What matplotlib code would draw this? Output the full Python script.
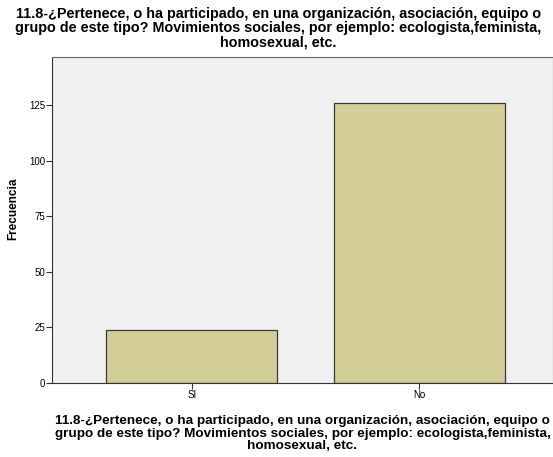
import matplotlib.pyplot as plt

plt.rcParams['font.family'] = ['Liberation Sans', 'DejaVu Sans']

categories = ["SI", "No"]
counts = [24, 126]
yticks = [0, 25, 50, 75, 100, 125]

question = ("11.8-¿Pertenece, o ha participado, en una organización, asociación, equipo o\n"
            "grupo de este tipo? Movimientos sociales, por ejemplo: ecologista,feminista,\n"
            "homosexual, etc.")

fig = plt.figure(figsize=(5.53, 4.57), dpi=100)
ax = fig.add_axes([0.094, 0.162, 0.906, 0.713])
ax.set_facecolor('#F0F0F0')

x = range(len(categories))
ax.bar(x, counts, width=0.752, color='#D3CE97', edgecolor='#3a3a3a', linewidth=0.9)

ax.set_xlim(-0.615, 1.589)
ax.set_ylim(0, 146.6)
ax.set_xticks(list(x))
ax.set_xticklabels(categories, fontsize=7)
ax.set_yticks(yticks)
ax.set_yticklabels([str(t) for t in yticks], fontsize=7)
ax.tick_params(direction='out', length=4, width=0.8, color='#333333', pad=1)

for s in ax.spines.values():
    s.set_color('#666666')
    s.set_linewidth(0.8)
ax.spines['left'].set_color('#333333')
ax.spines['bottom'].set_color('#333333')

ax.set_ylabel("Frecuencia", fontsize=8.5, fontweight='bold')
ax.yaxis.set_label_coords(-0.066, 0.534)

# question label under the axis, centred on the plot area
fig.text(0.547, 42 / 457, question, ha='center', va='top', fontsize=9.7,
         fontweight='bold', linespacing=1.08)
fig.text(0.503, 1 - 7 / 457, question, ha='center', va='top', fontsize=10.4,
         fontweight='bold', linespacing=1.03)

fig.savefig("out.png", dpi=100)
